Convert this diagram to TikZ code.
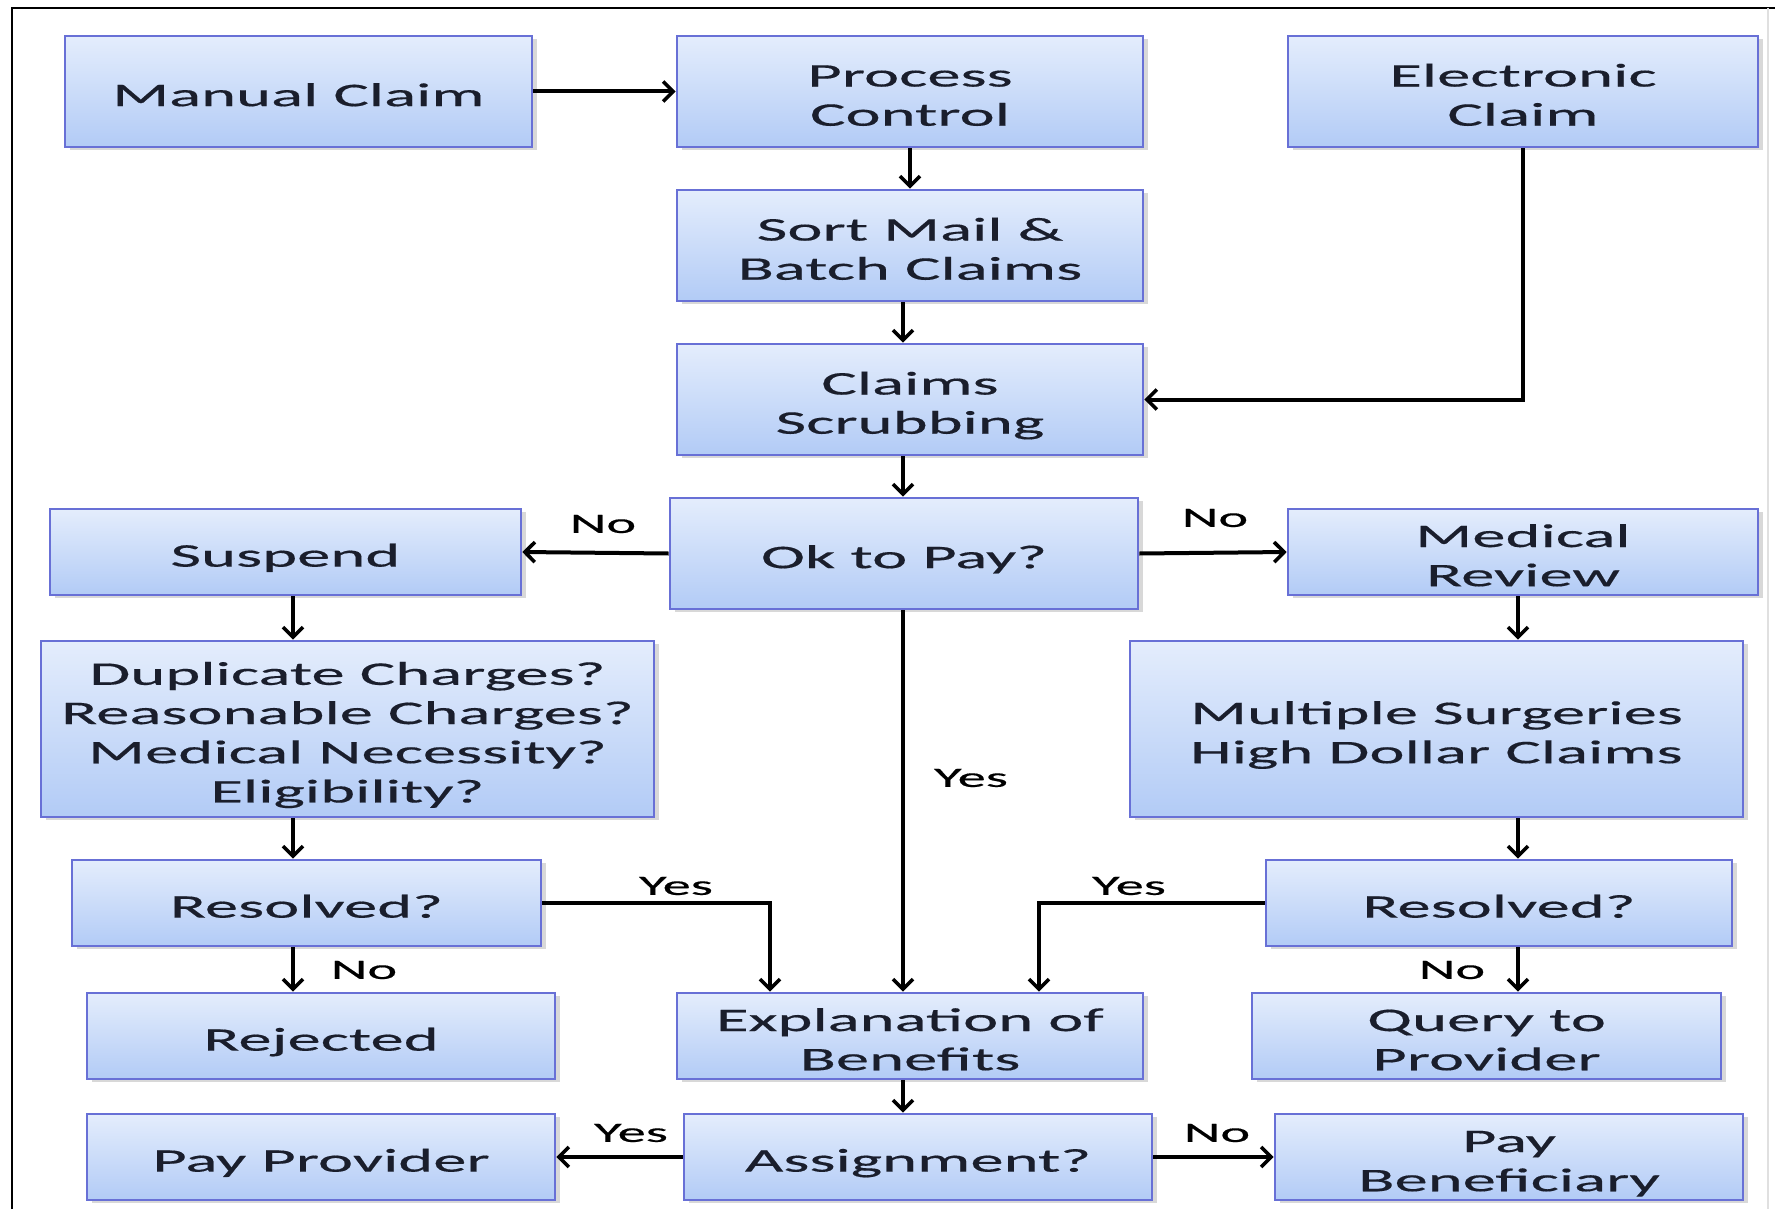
\documentclass[tikz,border=0pt]{standalone}
\usepackage{fontspec}
\setmainfont{Carlito}[FakeStretch=2.02,FakeBold=0.4]
\usetikzlibrary{arrows.meta,shadows}
\definecolor{boxtop}{RGB}{228,237,252}
\definecolor{boxbot}{RGB}{178,203,246}
\definecolor{boxedge}{RGB}{104,112,214}
\definecolor{txt}{RGB}{26,30,44}
\newcommand{\bt}[1]{\raisebox{-3.4pt}[\height][\depth]{\begin{tabular}{@{}c@{}}#1\end{tabular}}}
\tikzset{
  bx/.style 2 args={draw=boxedge, line width=1.3pt, top color=boxtop, bottom color=boxbot,
    minimum width={#1*0.5pt}, minimum height={#2*0.5pt}, inner sep=0pt,
    text=txt, font=\fontsize{16.5}{19.6}\selectfont,
    drop shadow={shadow xshift=2.5pt, shadow yshift=-1.5pt, opacity=0.25, fill=black!60}},
  arr/.style={line width=2pt, -{Straight Barb[length=5pt,width=10pt,line width=1.8pt]}},
  lbl/.style={text=black, font=\fontsize{14}{16}\selectfont, inner sep=0pt}
}
\begin{document}
\begin{tikzpicture}[x=0.5pt,y=-0.5pt]
\useasboundingbox (0,0) rectangle (1775,1209);
\fill[white] (0,0) rectangle (1775,1209);
\draw[line width=1.2pt] (12,1209) -- (12,8) -- (1775,8);
\draw[black!12, line width=1pt] (1768,8) -- (1768,1209);

\node[bx={467}{111}] (manual) at (298.5,91.5) {\bt{Manual Claim}};
\node[bx={466}{111}] (process) at (910,91.5) {\bt{Process\\Control}};
\node[bx={470}{111}] (electronic) at (1523,91.5) {\bt{Electronic\\Claim}};
\node[bx={466}{111}] (sort) at (910,245.5) {\bt{Sort Mail \&\\Batch Claims}};
\node[bx={466}{111}] (scrub) at (910,399.5) {\bt{Claims\\Scrubbing}};
\node[bx={468}{111}] (okpay) at (904,553.5) {\bt{Ok to Pay?}};
\node[bx={471}{86}] (suspend) at (285.5,552) {\bt{Suspend}};
\node[bx={470}{86}] (medrev) at (1523,552) {\bt{Medical\\Review}};
\node[bx={613}{176}] (dup) at (347.5,729) {\bt{Duplicate Charges?\\Reasonable Charges?\\Medical Necessity?\\Eligibility?}};
\node[bx={613}{176}] (multi) at (1436.5,729) {\bt{Multiple Surgeries\\High Dollar Claims}};
\node[bx={469}{86}] (resL) at (306.5,903) {\bt{Resolved?}};
\node[bx={466}{86}] (resR) at (1499,903) {\bt{Resolved?}};
\node[bx={468}{86}] (rejected) at (321,1036) {\bt{Rejected}};
\node[bx={466}{86}] (eob) at (910,1036) {\bt{Explanation of\\Benefits}};
\node[bx={469}{86}] (query) at (1486.5,1036) {\bt{Query to\\Provider}};
\node[bx={468}{86}] (paypro) at (321,1157) {\bt{Pay Provider}};
\node[bx={468}{86}] (assign) at (918,1157) {\bt{Assignment?}};
\node[bx={468}{86}] (paybene) at (1509,1157) {\bt{Pay\\Beneficiary}};

\coordinate (colL) at (293,0);
\coordinate (colM) at (903,0);
\coordinate (colR) at (1518,0);
\coordinate (yesL) at (770,0);
\coordinate (yesR) at (1039,0);

\draw[arr] (manual) -- (process);
\draw[arr] (process) -- (sort);
\draw[arr] (sort.south -| colM) -- (scrub.north -| colM);
\draw[arr] (scrub.south -| colM) -- (okpay.north -| colM);
\draw[arr] (electronic.south) |- (scrub.east);
\draw[arr] (okpay.west) -- (suspend.east);
\draw[arr] (okpay.east) -- (medrev.west);
\draw[arr] (okpay.south -| colM) -- (eob.north -| colM);
\draw[arr] (suspend.south -| colL) -- (dup.north -| colL);
\draw[arr] (dup.south -| colL) -- (resL.north -| colL);
\draw[arr] (resL.south -| colL) -- (rejected.north -| colL);
\draw[arr] (medrev.south -| colR) -- (multi.north -| colR);
\draw[arr] (multi.south -| colR) -- (resR.north -| colR);
\draw[arr] (resR.south -| colR) -- (query.north -| colR);
\draw[arr] (resL.east) -| (eob.north -| yesL);
\draw[arr] (resR.west) -| (eob.north -| yesR);
\draw[arr] (eob.south -| colM) -- (assign.north -| colM);
\draw[arr] (assign.west) -- (paypro.east);
\draw[arr] (assign.east) -- (paybene.west);

\node[lbl] (l1) at (603,524) {No};
\node[lbl] (l2) at (1215,518) {No};
\node[lbl] (l3) at (971,778) {Yes};
\node[lbl] (l4) at (676,886) {Yes};
\node[lbl] (l5) at (1129,886) {Yes};
\node[lbl] (l6) at (364,970) {No};
\node[lbl] (l7) at (1452,970) {No};
\node[lbl] (l8) at (631,1133) {Yes};
\node[lbl] (l9) at (1217,1133) {No};
\end{tikzpicture}
\end{document}
